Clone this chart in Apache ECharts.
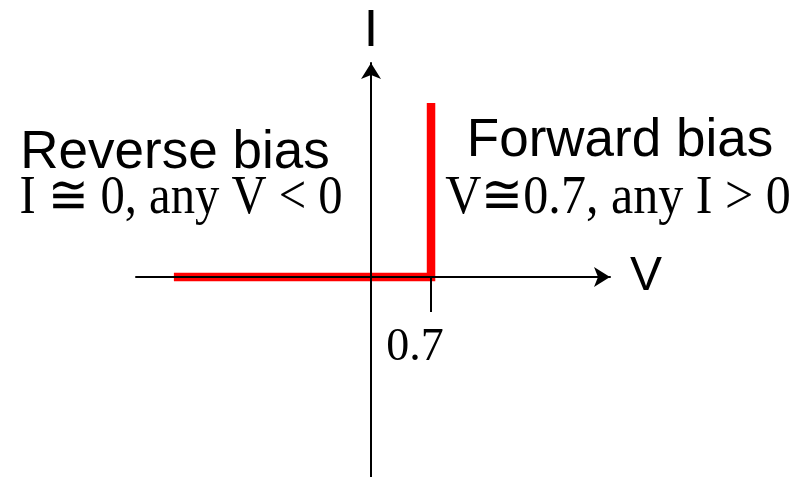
<!DOCTYPE html>
<html>
<head>
<meta charset="utf-8">
<script src="https://cdn.jsdelivr.net/npm/echarts@6/dist/echarts.min.js"></script>
<style>
  html, body { margin: 0; padding: 0; background: #fff; }
  #chart { width: 797px; height: 477px; }
</style>
</head>
<body>
<div id="chart"></div>
<script>
  // ideal diode I-V curve (piecewise)
  const curveV = [-2.3, 0.7, 0.7];
  const curveI = [0, 0, 1.74];
  const tickValues = [0.7];
  const tickLabels = ['0.7'];
  const axisNames = ['V', 'I'];
  const notes = [
    ['Reverse bias', 'I \u2245 0, any V < 0'],
    ['Forward bias', 'V\u22450.7, any I > 0']
  ];

  const SANS = '"Liberation Sans", Arial, sans-serif';
  const SERIF = '"Liberation Serif", "Times New Roman", serif';
  const RED = '#ff0000';

  const chart = echarts.init(document.getElementById('chart'));

  // text helper, scaleX squeezes the equation lines a bit like the original
  function note(text, x, y, font, sx) {
    return {
      type: 'text', x: x, y: y, scaleX: sx || 1,
      style: { text: text, font: font, fill: '#000', align: 'center', verticalAlign: 'middle' }
    };
  }

  const option = {
    animation: false,
    grid: { left: 136, right: 187, top: 63, bottom: 0, containLabel: false, outerBoundsMode: 'none' },
    xAxis: {
      type: 'value',
      min: -2.742,
      max: 2.788,
      position: 'bottom',
      offset: -200, // puts the axis on I = 0
      z: 5,
      splitLine: { show: false },
      name: axisNames[0],
      nameLocation: 'end',
      nameGap: 20,
      nameTextStyle: { fontFamily: SANS, fontSize: 48, color: '#000', verticalAlign: 'middle' },
      axisLine: {
        onZero: false,
        symbol: ['none', 'arrow'],
        symbolSize: [15, 16],
        lineStyle: { color: '#000', width: 2 }
      },
      axisTick: {
        customValues: tickValues,
        length: 35,
        lineStyle: { color: '#000', width: 2 }
      },
      axisLabel: {
        customValues: tickValues,
        formatter: (v) => tickLabels[tickValues.indexOf(v)] || '',
        margin: 48,
        padding: [0, 32, 0, 0],
        fontFamily: SERIF,
        fontSize: 46,
        color: '#000'
      }
    },
    yAxis: {
      type: 'value',
      min: -2.0,
      max: 2.14,
      z: 5,
      splitLine: { show: false },
      name: axisNames[1],
      nameLocation: 'end',
      nameGap: 5,
      nameTextStyle: { fontFamily: SANS, fontSize: 52, color: '#000' },
      axisLine: {
        onZero: true,
        symbol: ['none', 'arrow'],
        symbolSize: [15, 16],
        lineStyle: { color: '#000', width: 2 }
      },
      axisTick: { show: false },
      axisLabel: { show: false }
    },
    series: [{
      type: 'line',
      data: curveV.map((v, i) => [v, curveI[i]]),
      showSymbol: false,
      lineStyle: { color: RED, width: 8.5, cap: 'butt', join: 'miter' },
      z: 2
    }],
    graphic: [
      note(notes[0][0], 175, 153, '53px ' + SANS),
      note(notes[0][1], 181, 199, '54px ' + SERIF, 0.9),
      note(notes[1][0], 620, 141, '53px ' + SANS),
      note(notes[1][1], 618, 199, '55px ' + SERIF, 0.91)
    ]
  };

  chart.setOption(option);
</script>
</body>
</html>
